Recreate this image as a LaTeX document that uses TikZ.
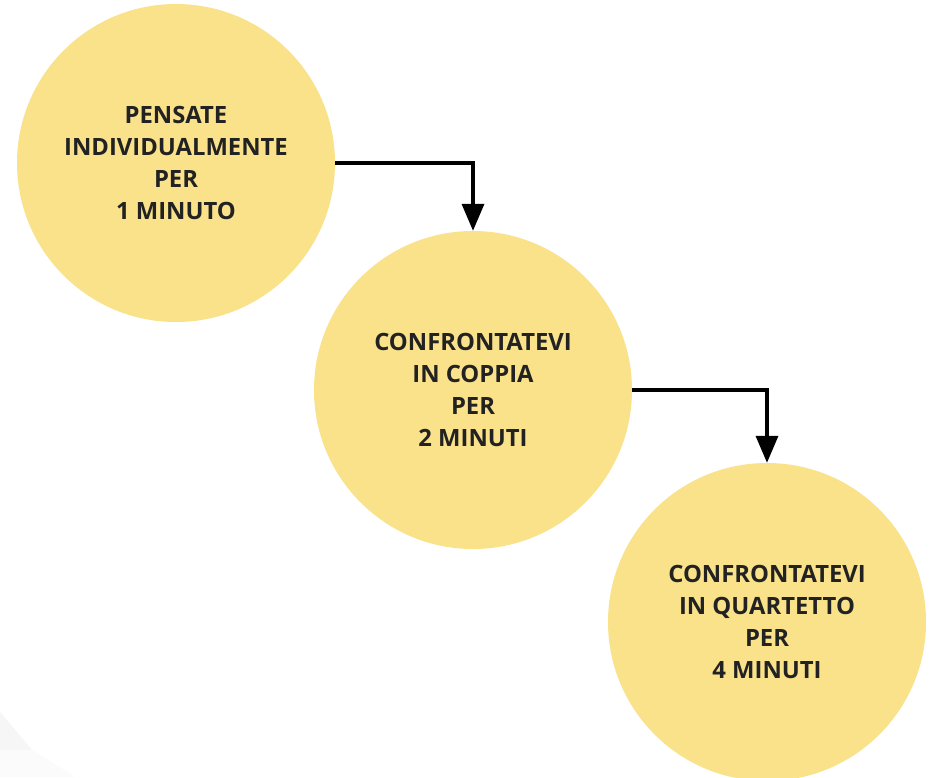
\documentclass[tikz,border=0pt]{standalone}
\usepackage{fontspec}
\setmainfont{Open Sans}
\usetikzlibrary{arrows.meta}
\definecolor{circfill}{HTML}{F9E28A}
\definecolor{txt}{HTML}{222222}
\tikzset{
  stepcircle/.style={circle, fill=circfill, minimum size=318pt, inner sep=0pt,
    align=center, text=txt, font=\fontsize{23.8}{32}\selectfont\bfseries},
  conn/.style={line width=3.5pt, -{Triangle[length=27pt,width=22pt]}, black}
}
\begin{document}
\begin{tikzpicture}[x=1pt,y=-1pt]
\useasboundingbox (0,0) rectangle (940,777);
\fill[white] (0,0) rectangle (940,777);
\fill[gray!7] (0,712) -- (32,750) -- (0,750) -- cycle;
\fill[gray!3] (0,750) -- (32,750) -- (75,777) -- (0,777) -- cycle;
\node[stepcircle] (a) at (176,163) {PENSATE\\INDIVIDUALMENTE\\PER\\1 MINUTO};
\node[stepcircle] (b) at (473,390) {CONFRONTATEVI\\IN COPPIA\\PER\\2 MINUTI};
\node[stepcircle] (c) at (767,622) {CONFRONTATEVI\\IN QUARTETTO\\PER\\4 MINUTI};
\draw[conn] (a.east) -| (b.north);
\draw[conn] (b.east) -| (c.north);
\end{tikzpicture}
\end{document}
